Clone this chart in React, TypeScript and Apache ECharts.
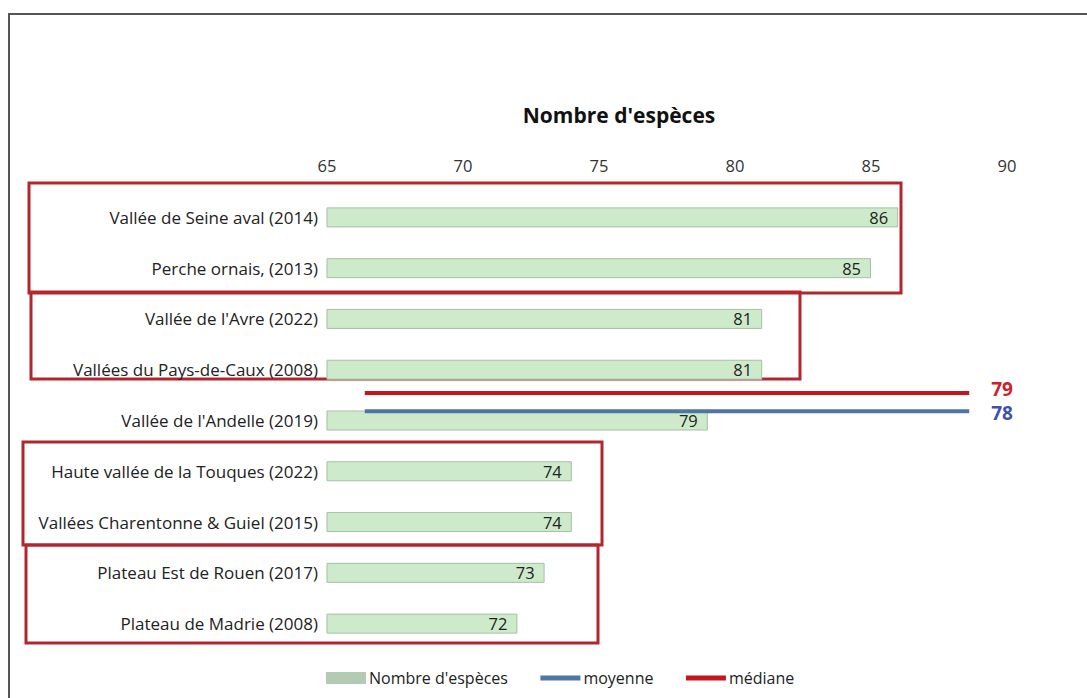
import React, { useEffect, useRef } from "react";
import * as echarts from "echarts";

const categories = [
  "Vallée de Seine aval (2014)",
  "Perche ornais, (2013)",
  "Vallée de l'Avre (2022)",
  "Vallées du Pays-de-Caux (2008)",
  "Vallée de l'Andelle (2019)",
  "Haute vallée de la Touques (2022)",
  "Vallées Charentonne & Guiel (2015)",
  "Plateau Est de Rouen (2017)",
  "Plateau de Madrie (2008)",
];
const especes = [86, 85, 81, 81, 79, 74, 74, 73, 72];
const moyenne = [78, 78, 78, 78, 78, 78, 78, 78, 78];
const mediane = [79, 79, 79, 79, 79, 79, 79, 79, 79];
const lineSlots = ["1", "2", "3", "4", "5", "6", "7", "8", "9"];

const FONT = "'Open Sans', sans-serif";
const FS = 16.5;

export default function App() {
  const ref = useRef<HTMLDivElement>(null);
  useEffect(() => {
    if (!ref.current) return;
    const chart = echarts.init(ref.current, null, { renderer: "svg" });
    const endLabel = (color: string, dy: number) => ({
      show: true,
      distance: 22,
      offset: [0, dy],
      color,
      fontSize: 19,
      fontWeight: "bold",
      fontFamily: FONT,
      formatter: (p: any) => String(p.value),
    });
    chart.setOption({
      animation: false,
      backgroundColor: "#ffffff",
      textStyle: { fontFamily: FONT },
      title: {
        text: "Nombre d'espèces",
        left: 614,
        textAlign: "center",
        top: 99,
        textStyle: { fontSize: 21, fontWeight: "bold", color: "#111", fontFamily: FONT },
      },
      legend: {
        top: 665,
        left: 321,
        itemWidth: 40,
        itemHeight: 12,
        itemGap: 30,
        textStyle: { fontSize: 16, color: "#222", fontFamily: FONT, padding: [0, 0, 0, -2] },
        data: [
          { name: "Nombre d'espèces", icon: "rect", itemStyle: { color: "#b4cbb3", borderWidth: 0 } },
          {
            name: "moyenne",
            itemStyle: { color: "rgba(0,0,0,0)", borderWidth: 0, opacity: 0 },
            lineStyle: { width: 5, color: "#4f75a3" },
          },
          {
            name: "médiane",
            itemStyle: { color: "rgba(0,0,0,0)", borderWidth: 0, opacity: 0 },
            lineStyle: { width: 5, color: "#c4161c" },
          },
        ],
      },
      grid: { left: 327, right: 80, top: 192, height: 457 },
      xAxis: [
        {
          type: "value",
          position: "top",
          min: 65,
          max: 90,
          interval: 5,
          axisLine: { show: false },
          axisTick: { show: false },
          splitLine: { show: false },
          axisLabel: { fontSize: FS, color: "#333", margin: 18, fontFamily: FONT },
        },
        {
          type: "category",
          data: lineSlots,
          position: "bottom",
          boundaryGap: true,
          show: false,
        },
      ],
      yAxis: [
        {
          type: "category",
          data: categories,
          inverse: true,
          axisLine: { show: false },
          axisTick: { show: false },
          axisLabel: { fontSize: 17, color: "#222", margin: 9, fontFamily: FONT },
        },
        {
          type: "value",
          min: 65,
          max: 90,
          show: false,
          splitLine: { show: false },
        },
      ],
      series: [
        {
          name: "Nombre d'espèces",
          type: "bar",
          data: especes,
          xAxisIndex: 0,
          yAxisIndex: 0,
          barWidth: 20,
          itemStyle: { color: "#cdebca", borderColor: "#a5bfa4", borderWidth: 1 },
          label: {
            show: true,
            position: "insideRight",
            distance: 10,
            fontSize: FS,
            color: "#222",
            fontFamily: FONT,
          },
        },
        {
          name: "moyenne",
          type: "line",
          data: moyenne,
          xAxisIndex: 1,
          yAxisIndex: 1,
          symbol: "none",
          lineStyle: { color: "#4f75a3", width: 4 },
          itemStyle: { color: "#4f75a3" },
          endLabel: endLabel("#4050b0", 2),
          z: 5,
        },
        {
          name: "médiane",
          type: "line",
          data: mediane,
          xAxisIndex: 1,
          yAxisIndex: 1,
          symbol: "none",
          lineStyle: { color: "#c4161c", width: 4 },
          itemStyle: { color: "#c4161c" },
          endLabel: endLabel("#cc2229", -4),
          z: 5,
        },
      ],
      graphic: [
        {
          type: "rect",
          shape: { x: 9, y: 14, width: 1100, height: 700 },
          style: { fill: "none", stroke: "#555", lineWidth: 2 },
          silent: true,
        },
        {
          type: "rect",
          shape: { x: 29, y: 183, width: 872, height: 110 },
          style: { fill: "none", stroke: "#b3262e", lineWidth: 3 },
          silent: true,
        },
        {
          type: "rect",
          shape: { x: 31, y: 292, width: 769, height: 87 },
          style: { fill: "none", stroke: "#b3262e", lineWidth: 3 },
          silent: true,
        },
        {
          type: "rect",
          shape: { x: 23, y: 442, width: 579, height: 103 },
          style: { fill: "none", stroke: "#b3262e", lineWidth: 3 },
          silent: true,
        },
        {
          type: "rect",
          shape: { x: 26, y: 545, width: 572, height: 98 },
          style: { fill: "none", stroke: "#b3262e", lineWidth: 3 },
          silent: true,
        },
      ],
    });
    return () => chart.dispose();
  }, []);
  return (
    <div
      ref={ref}
      style={{ position: "fixed", left: 0, top: 0, width: 1087, height: 698 }}
    />
  );
}
